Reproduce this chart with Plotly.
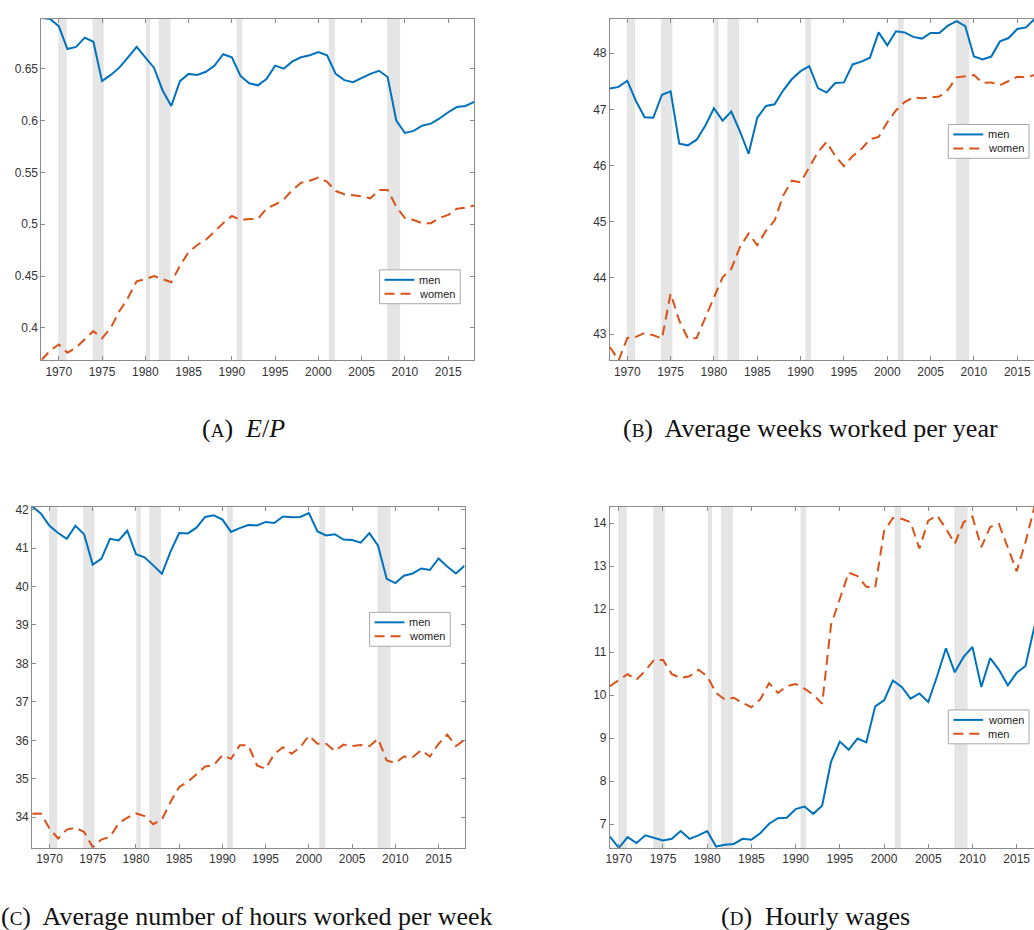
import plotly.graph_objects as go

# ---- data ----
years = list(range(1968, 2019))
years_wage = list(range(1969, 2019))

ep_men = [0.699, 0.698, 0.691, 0.669, 0.671, 0.680, 0.676, 0.638, 0.644, 0.651,
          0.661, 0.671, 0.661, 0.651, 0.629, 0.614, 0.638, 0.645, 0.644, 0.647,
          0.653, 0.664, 0.661, 0.643, 0.636, 0.634, 0.640, 0.653, 0.650, 0.657,
          0.661, 0.663, 0.666, 0.663, 0.645, 0.639, 0.637, 0.641, 0.645, 0.648,
          0.642, 0.600, 0.588, 0.590, 0.595, 0.597, 0.602, 0.608, 0.613, 0.614,
          0.618]
ep_women = [0.369, 0.378, 0.384, 0.376, 0.381, 0.389, 0.397, 0.390, 0.400, 0.416,
            0.429, 0.445, 0.447, 0.450, 0.447, 0.444, 0.460, 0.473, 0.480, 0.485,
            0.493, 0.501, 0.508, 0.504, 0.505, 0.505, 0.515, 0.519, 0.524, 0.533,
            0.540, 0.542, 0.545, 0.541, 0.532, 0.529, 0.528, 0.527, 0.525, 0.533,
            0.533, 0.517, 0.506, 0.504, 0.501, 0.501, 0.506, 0.509, 0.515, 0.516,
            0.518]

weeks_men = [47.37, 47.40, 47.51, 47.15, 46.86, 46.85, 47.26, 47.32, 46.39, 46.36,
             46.46, 46.71, 47.02, 46.80, 46.96, 46.61, 46.21, 46.85, 47.06, 47.09,
             47.34, 47.54, 47.68, 47.77, 47.38, 47.30, 47.47, 47.48, 47.80, 47.85,
             47.92, 48.37, 48.14, 48.39, 48.37, 48.29, 48.26, 48.36, 48.36, 48.49,
             48.57, 48.48, 47.94, 47.89, 47.94, 48.21, 48.27, 48.43, 48.46, 48.61,
             48.58]
weeks_women = [42.77, 42.53, 42.93, 42.95, 43.02, 42.98, 42.92, 43.72, 43.24, 42.92,
               42.93, 43.29, 43.66, 44.01, 44.16, 44.55, 44.79, 44.58, 44.84, 45.02,
               45.47, 45.73, 45.70, 45.97, 46.24, 46.42, 46.17, 45.99, 46.17, 46.29,
               46.47, 46.51, 46.77, 46.98, 47.13, 47.21, 47.20, 47.21, 47.23, 47.35,
               47.57, 47.59, 47.61, 47.47, 47.48, 47.43, 47.50, 47.58, 47.57, 47.61,
               47.62]

hours_men = [42.08, 41.90, 41.58, 41.39, 41.24, 41.58, 41.36, 40.57, 40.72, 41.24,
             41.20, 41.45, 40.84, 40.76, 40.55, 40.33, 40.91, 41.39, 41.38, 41.53,
             41.81, 41.85, 41.74, 41.42, 41.52, 41.60, 41.59, 41.68, 41.65, 41.82,
             41.80, 41.81, 41.91, 41.43, 41.33, 41.36, 41.22, 41.21, 41.14, 41.39,
             41.06, 40.20, 40.09, 40.28, 40.34, 40.47, 40.43, 40.73, 40.52, 40.34,
             40.54]
hours_women = [34.09, 34.10, 33.71, 33.45, 33.68, 33.73, 33.62, 33.22, 33.42, 33.49,
               33.84, 33.99, 34.10, 34.03, 33.82, 33.94, 34.40, 34.79, 34.92, 35.13,
               35.32, 35.36, 35.61, 35.52, 35.87, 35.87, 35.35, 35.26, 35.65, 35.82,
               35.65, 35.82, 36.12, 35.91, 35.91, 35.72, 35.89, 35.85, 35.88, 35.85,
               36.04, 35.48, 35.41, 35.58, 35.56, 35.75, 35.58, 35.91, 36.15, 35.85,
               36.01]

wage_women = [6.71, 6.45, 6.70, 6.56, 6.74, 6.68, 6.62, 6.66, 6.84, 6.66,
              6.74, 6.84, 6.48, 6.52, 6.54, 6.66, 6.64, 6.79, 7.01, 7.14,
              7.15, 7.35, 7.41, 7.24, 7.43, 8.45, 8.92, 8.73, 8.99, 8.90,
              9.74, 9.88, 10.34, 10.19, 9.92, 10.04, 9.84, 10.44, 11.09, 10.53,
              10.89, 11.12, 10.19, 10.86, 10.59, 10.23, 10.52, 10.68, 11.59, 11.90]
wage_men = [10.21, 10.36, 10.49, 10.36, 10.57, 10.82, 10.82, 10.49, 10.40, 10.44,
            10.59, 10.44, 10.05, 9.90, 9.94, 9.82, 9.72, 9.90, 10.28, 10.05,
            10.21, 10.26, 10.15, 10.01, 9.80, 11.63, 12.25, 12.85, 12.77, 12.52,
            12.50, 13.81, 14.12, 14.10, 14.02, 13.41, 14.06, 14.18, 13.87, 13.52,
            14.02, 14.15, 13.44, 13.91, 13.98, 13.41, 12.88, 13.56, 14.37, 14.39]

# NBER recessions (fractional years)
rec_start = [1969.95, 1973.9, 1980.05, 1981.55, 1990.55, 2001.2, 2007.95]
rec_end = [1970.9, 1975.2, 1980.55, 1982.9, 1991.2, 2001.9, 2009.45]

BLUE = "#0072BD"
ORANGE = "#D95319"
AXIS = "#8a8a8a"
TXT = "#333333"
DASH = "10px,6px"

W, H = 1034, 930


def fx(p):
    return p / W


def fy(p):
    return 1 - p / H


fig = go.Figure()

# panel: (xaxis, yaxis, x-values, solid series, dashed series, labels, legend box)
panels = [
    ("x", "y", years, ep_men, ep_women, ("men", "women"), (377, 267)),
    ("x2", "y2", years, weeks_men, weeks_women, ("men", "women"), (948, 121)),
    ("x3", "y3", years, hours_men, hours_women, ("men", "women"), (367, 611)),
    ("x4", "y4", years_wage, wage_women, wage_men, ("women", "men"), (948, 709)),
]

for xa, ya, xs, solid, dashed, names, (lx, ly) in panels:
    fig.add_trace(go.Scatter(x=xs, y=solid, name=names[0], mode="lines",
                             line=dict(color=BLUE, width=2),
                             xaxis=xa, yaxis=ya, showlegend=False))
    fig.add_trace(go.Scatter(x=xs, y=dashed, name=names[1], mode="lines",
                             line=dict(color=ORANGE, width=2, dash=DASH),
                             xaxis=xa, yaxis=ya, showlegend=False))
    for s, e in zip(rec_start, rec_end):
        fig.add_shape(type="rect", xref=xa, yref=ya + " domain",
                      x0=s, x1=e, y0=0, y1=1, fillcolor="#e5e5e5",
                      line=dict(width=0), layer="below")

    # legend box drawn by hand (MATLAB-like compact legend)
    fig.add_shape(type="rect", xref="paper", yref="paper",
                  x0=fx(lx), x1=fx(lx + 81), y0=fy(ly), y1=fy(ly + 34),
                  fillcolor="white", line=dict(color="#a8a8a8", width=1))
    for k, (nm, col, dsh) in enumerate([(names[0], BLUE, "solid"),
                                        (names[1], ORANGE, DASH)]):
        yy = ly + 10 + k * 14
        fig.add_shape(type="line", xref="paper", yref="paper",
                      x0=fx(lx + 5), x1=fx(lx + 35), y0=fy(yy), y1=fy(yy),
                      line=dict(color=col, width=2, dash=dsh))
        fig.add_annotation(x=fx(lx + 38), y=fy(yy), xref="paper", yref="paper",
                           text=nm, showarrow=False, xanchor="left",
                           yanchor="middle",
                           font=dict(size=11, color="#222222",
                                     family="Liberation Sans"))

common_x = dict(showline=True, linecolor=AXIS, linewidth=1, ticks="inside",
                ticklen=4, tickcolor=AXIS, showgrid=False, zeroline=False,
                tick0=1970, dtick=5, tickfont=dict(size=12, color=TXT,
                                                   family="Liberation Sans"))
common_y = dict(showline=True, linecolor=AXIS, linewidth=1, ticks="inside",
                ticklen=4, tickcolor=AXIS, showgrid=False, zeroline=False,
                tickfont=dict(size=12, color=TXT, family="Liberation Sans"))

top_row = [fy(358), fy(15)]
bot_row = [fy(847.7), fy(504.7)]

fig.update_layout(
    width=W, height=H,
    margin=dict(l=0, r=0, t=0, b=0),
    paper_bgcolor="white", plot_bgcolor="white",
    hovermode=False, showlegend=False,
    xaxis=dict(common_x, domain=[fx(37.6), fx(472)], range=[1968, 2018],
               mirror="ticks", anchor="y"),
    yaxis=dict(common_y, domain=top_row, range=[0.3686, 0.698], dtick=0.05,
               mirror="ticks", anchor="x"),
    xaxis2=dict(common_x, domain=[fx(608.3), 1.0], range=[1968, 2016.93],
                mirror="ticks", anchor="y2"),
    yaxis2=dict(common_y, domain=top_row, range=[42.53, 48.61], dtick=1,
                anchor="x2"),
    xaxis3=dict(common_x, domain=[fx(28.3), fx(462.3)], range=[1968, 2018],
                mirror="ticks", anchor="y3"),
    yaxis3=dict(common_y, domain=bot_row, range=[33.2, 42.08], dtick=1,
                mirror="ticks", anchor="x3"),
    xaxis4=dict(common_x, domain=[fx(608.3), 1.0], range=[1969, 2016.96],
                mirror="ticks", anchor="y4"),
    yaxis4=dict(common_y, domain=bot_row, range=[6.445, 14.386], dtick=1,
                anchor="x4"),
)


def sc(letter):
    return "(<span style='font-size:19px'>" + letter + "</span>)"


captions = [
    (240, 426, sc("A") + "  <i>E</i>/<i>P</i>"),
    (810, 426, sc("B") + "  Average weeks worked per year"),
    (244, 916, sc("C") + "  Average number of hours worked per week"),
    (815, 916, sc("D") + "  Hourly wages"),
]
for cx, cy, txt in captions:
    fig.add_annotation(x=fx(cx), y=fy(cy), xref="paper", yref="paper",
                       text=txt, showarrow=False, xanchor="center",
                       yanchor="middle",
                       font=dict(size=26, color="#111111",
                                 family="Liberation Serif"))

# remove the default page margin so the figure fills the window exactly
fig.write_html("out.html", config={"displayModeBar": False},
               post_script="document.body.style.margin='0';"
                           "document.body.style.overflow='hidden';")
